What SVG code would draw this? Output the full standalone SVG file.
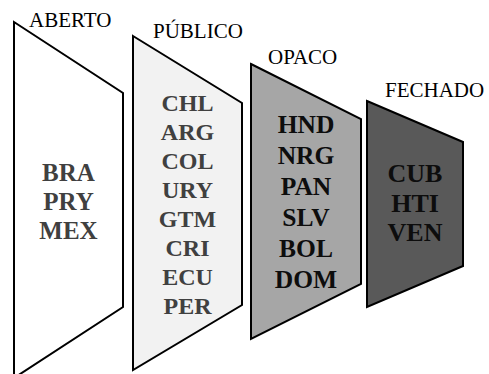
<svg xmlns="http://www.w3.org/2000/svg" width="489" height="374" viewBox="0 0 489 374">
<style>
.shape{stroke:#000;stroke-width:2;stroke-linejoin:miter}
.head{font-family:"Liberation Serif","Times New Roman",serif;font-size:21px;fill:#000}
.lab{font-family:"Liberation Serif","Times New Roman",serif;font-weight:bold;text-anchor:middle}
.gray{fill:#404040}
.blk{fill:#0d0d0d}
</style>
<rect width="489" height="374" fill="#fff"/>
<g id="aberto">
<polygon class="shape" fill="#ffffff" points="14,22 123,93 123,307 14,378"/>
<text class="head" x="29" y="27">ABERTO</text>
<text class="lab gray" font-size="25" x="68.5" y="181">BRA</text>
<text class="lab gray" font-size="25" x="68.5" y="210">PRY</text>
<text class="lab gray" font-size="25" x="68.5" y="239">MEX</text>
</g>
<g id="publico">
<polygon class="shape" fill="#f2f2f2" points="133,36 242,103 242,305 133,370"/>
<text class="head" x="153" y="38">PÚBLICO</text>
<text class="lab gray" font-size="24" x="187.5" y="111">CHL</text>
<text class="lab gray" font-size="24" x="187.5" y="140">ARG</text>
<text class="lab gray" font-size="24" x="187.5" y="169">COL</text>
<text class="lab gray" font-size="24" x="187.5" y="198">URY</text>
<text class="lab gray" font-size="24" x="187.5" y="227">GTM</text>
<text class="lab gray" font-size="24" x="187.5" y="256">CRI</text>
<text class="lab gray" font-size="24" x="187.5" y="285">ECU</text>
<text class="lab gray" font-size="24" x="187.5" y="314">PER</text>
</g>
<g id="opaco">
<polygon class="shape" fill="#a6a6a6" points="251,64 361,119 361,284 251,339"/>
<text class="head" x="268" y="64">OPACO</text>
<text class="lab blk" font-size="25.5" x="306" y="133">HND</text>
<text class="lab blk" font-size="25.5" x="306" y="164">NRG</text>
<text class="lab blk" font-size="25.5" x="306" y="195">PAN</text>
<text class="lab blk" font-size="25.5" x="306" y="226">SLV</text>
<text class="lab blk" font-size="25.5" x="306" y="257">BOL</text>
<text class="lab blk" font-size="25.5" x="306" y="288">DOM</text>
</g>
<g id="fechado">
<polygon class="shape" fill="#595959" points="367,101 463,142 463,266 367,307"/>
<text class="head" x="385" y="97">FECHADO</text>
<text class="lab blk" font-size="26" x="415" y="182">CUB</text>
<text class="lab blk" font-size="26" x="415" y="212">HTI</text>
<text class="lab blk" font-size="26" x="415" y="241">VEN</text>
</g>
<g id="connectors"/>
</svg>
